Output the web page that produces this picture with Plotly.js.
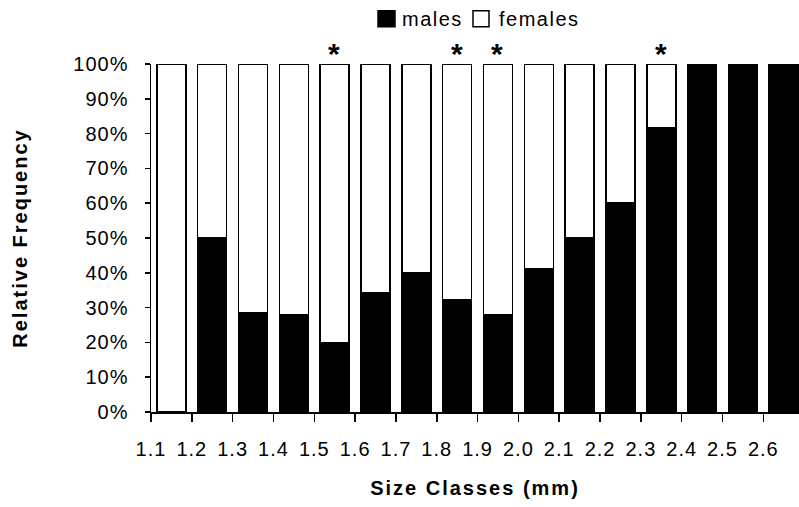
<!DOCTYPE html>
<html><head><meta charset="utf-8">
<script src="https://cdn.plot.ly/plotly-3.0.1.min.js"></script>
<style>
html,body{margin:0;padding:0;background:#fff;}
#chart{width:799px;height:507px;}
.xtitle,.ytitle{letter-spacing:2px;}
.xtick text,.ytick text{letter-spacing:1px;}
.annotation-text{letter-spacing:1.5px;}
</style></head><body><div id="chart"></div>
<script>
const binEdges = [1.1,1.2,1.3,1.4,1.5,1.6,1.7,1.8,1.9,2.0,2.1,2.2,2.3,2.4,2.5,2.6];
const binCenters = [1.15,1.25,1.35,1.45,1.55,1.65,1.75,1.85,1.95,2.05,2.15,2.25,2.35,2.45,2.55,2.65];
const tickLabels = ["1.1","1.2","1.3","1.4","1.5","1.6","1.7","1.8","1.9","2.0","2.1","2.2","2.3","2.4","2.5","2.6"];
const malesPct   = [0,50,28.5,28,20,34.3,40,32.3,28,41.2,50,60,81.6,100,100,100];
const femalesPct = [100,50,71.5,72,80,65.7,60,67.7,72,58.8,50,40,18.4,0,0,0];
const significant = [false,false,false,false,true,false,false,true,true,false,false,false,true,false,false,false];
const yTicks = [0,10,20,30,40,50,60,70,80,90,100];
const yTickLabels = ["0%","10%","20%","30%","40%","50%","60%","70%","80%","90%","100%"];
const seriesNames = ["males","females"];
const seriesFills = ["#000","#fff"];

const font = 'Arial, "Liberation Sans", sans-serif';

const traces = [
  {type:'bar', name:seriesNames[0], x:binCenters, y:malesPct,
   marker:{color:seriesFills[0], line:{color:'#000', width:1.5}}, hoverinfo:'skip'},
  {type:'bar', name:seriesNames[1], x:binCenters, y:femalesPct,
   marker:{color:seriesFills[1], line:{color:'#000', width:1.5}}, hoverinfo:'skip'}
];

const annotations = binCenters.map((c,i)=> significant[i] ? {
  x:c, y:100, xref:'x', yref:'y', text:'*', showarrow:false,
  yanchor:'bottom', yshift:-8, font:{family:font, size:30, color:'#000', weight:'bold'}
} : null).filter(a=>a);

// legend (drawn as shapes + labels above the plot)
const legendKeyX = [[0.3503,0.3765],[0.4969,0.5216]];
const legendTextX = [0.3843,0.5340];
const shapes = [];
seriesNames.forEach((n,i)=>{
  shapes.push({type:'rect', xref:'paper', yref:'paper',
    x0:legendKeyX[i][0], x1:legendKeyX[i][1], y0:1.1072, y1:1.1532,
    fillcolor:seriesFills[i], line:{color:'#000', width:1.5}});
  annotations.push({xref:'paper', yref:'paper', x:legendTextX[i], y:1.1302,
    xanchor:'left', yanchor:'middle', text:n, showarrow:false,
    font:{family:font, size:20, color:'#000'}});
});

const layout = {
  width:799, height:507,
  margin:{l:151, r:0, t:64, b:95},
  barmode:'stack', bargap:0.29,
  paper_bgcolor:'#fff', plot_bgcolor:'#fff',
  font:{family:font, size:20, color:'#000'},
  showlegend:false,
  xaxis:{range:[1.1,2.6874], tickvals:binEdges, ticktext:tickLabels,
         ticks:'outside', ticklen:8, tickwidth:1.5, tickcolor:'#000',
         showline:true, linecolor:'#000', linewidth:1.5,
         showgrid:false, zeroline:false, ticklabelstandoff:10,
         tickfont:{family:font, size:20, color:'#000'},
         title:{text:'Size Classes (mm)', standoff:22, font:{family:font, size:20, color:'#000', weight:'bold'}}},
  yaxis:{range:[0,100], tickvals:yTicks, ticktext:yTickLabels,
         ticks:'outside', ticklen:5, tickwidth:1.5, tickcolor:'#000',
         showline:true, linecolor:'#000', linewidth:1.5,
         showgrid:false, zeroline:false, ticklabelstandoff:12,
         tickfont:{family:font, size:20, color:'#000'},
         title:{text:'Relative Frequency', standoff:40, font:{family:font, size:20, color:'#000', weight:'bold'}}},
  shapes:shapes,
  annotations:annotations
};

Plotly.newPlot('chart', traces, layout, {displayModeBar:false, staticPlot:true});
</script></body></html>
